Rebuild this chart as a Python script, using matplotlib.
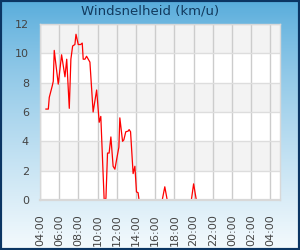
import numpy as np
import matplotlib.pyplot as plt
from matplotlib.patches import Rectangle

# wind speed readings (time of day, km/u)
times = ["04:37", "04:52", "04:58", "05:17", "05:23", "05:29", "05:54", "06:15",
         "06:36", "06:47", "07:03", "07:13", "07:24", "07:38", "07:45", "07:59",
         "08:14", "08:24", "08:30", "08:41", "08:51", "09:12", "09:32", "09:54",
         "10:10", "10:20", "10:41", "10:52", "11:02", "11:12", "11:23", "11:37",
         "11:48", "12:02", "12:13", "12:19", "12:36", "12:44", "12:56", "13:11",
         "13:17", "13:26", "13:42", "13:53", "14:03", "14:13", "14:19", "16:44",
         "17:00", "17:15", "19:46", "20:00", "20:17"]
speed = [6.2, 6.2, 7.0, 7.8, 8.1, 10.2, 7.9, 9.9,
         8.4, 9.6, 6.25, 9.6, 10.5, 10.6, 11.3, 10.6,
         10.6, 10.7, 9.6, 9.6, 9.8, 9.4, 6.0, 7.5,
         5.3, 5.7, 0.0, 0.1, 3.2, 3.2, 4.3, 2.3,
         2.1, 2.95, 3.6, 5.6, 4.0, 4.1, 4.65, 4.7,
         4.8, 4.65, 1.8, 2.3, 0.55, 0.5, 0.0, 0.0,
         0.9, 0.0, 0.0, 1.1, 0.0]

tick_labels = ["04:00", "06:00", "08:00", "10:00", "12:00", "14:00", "16:00",
               "18:00", "20:00", "22:00", "00:00", "02:00", "04:00"]
y_ticks = [0, 2, 4, 6, 8, 10, 12]


def hours_since_start(t):
    h, m = t.split(":")
    return (int(h) - 4) % 24 + int(m) / 60


x = [hours_since_start(t) for t in times]

fig = plt.figure(figsize=(3, 2.5), dpi=100)

# gradient background
bg = fig.add_axes([0, 0, 1, 1], zorder=0)
grad = np.linspace(0, 1, 256).reshape(-1, 1)
top = np.array([0x55, 0xab, 0xdb]) / 255
bot = np.array([0xf4, 0xfa, 0xfd]) / 255
img = top + (bot - top) * grad[:, :, None] ** 0.8
bg.imshow(img, aspect="auto", extent=[0, 1, 0, 1])
bg.set_axis_off()
fig.patches.append(Rectangle((0, 0), 1, 1, transform=fig.transFigure,
                             fill=False, edgecolor="#0b3563", linewidth=3, zorder=10))

ax = fig.add_axes([40 / 300, 50 / 250, 240 / 300, 176 / 250], zorder=1)
ax.set_facecolor("white")
for lo in range(2, 12, 4):
    ax.axhspan(lo, lo + 2, color="#f3f3f3", zorder=0, lw=0)
ax.axhspan(10, 12, color="#f3f3f3", zorder=0, lw=0)

ax.plot(x, speed, color="#ff0000", linewidth=0.9, zorder=2)

ax.set_xlim(0, 25)
ax.set_ylim(0, 12)
ax.set_xticks(range(0, 25, 2))
ax.set_xticklabels(tick_labels, rotation=90)
ax.set_yticks(y_ticks)
ax.tick_params(length=0, labelsize=8, colors="#444444")
ax.tick_params(axis="x", pad=10)
ax.tick_params(axis="y", pad=8)
ax.grid(axis="x", color="#cccccc", linewidth=1, zorder=1)
ax.grid(axis="y", color="#dddddd", linewidth=1, zorder=1)
ax.set_axisbelow(True)
for s in ax.spines.values():
    s.set_color("#d8d8d8")
    s.set_linewidth(1)
ax.spines["bottom"].set_linewidth(1.6)
ax.spines["bottom"].set_zorder(3)

fig.text(0.5, 1 - 11 / 250, "Windsnelheid (km/u)", ha="center", va="center",
         fontsize=9.5, color="#123a5e")

fig.savefig("out.png", dpi=100)
